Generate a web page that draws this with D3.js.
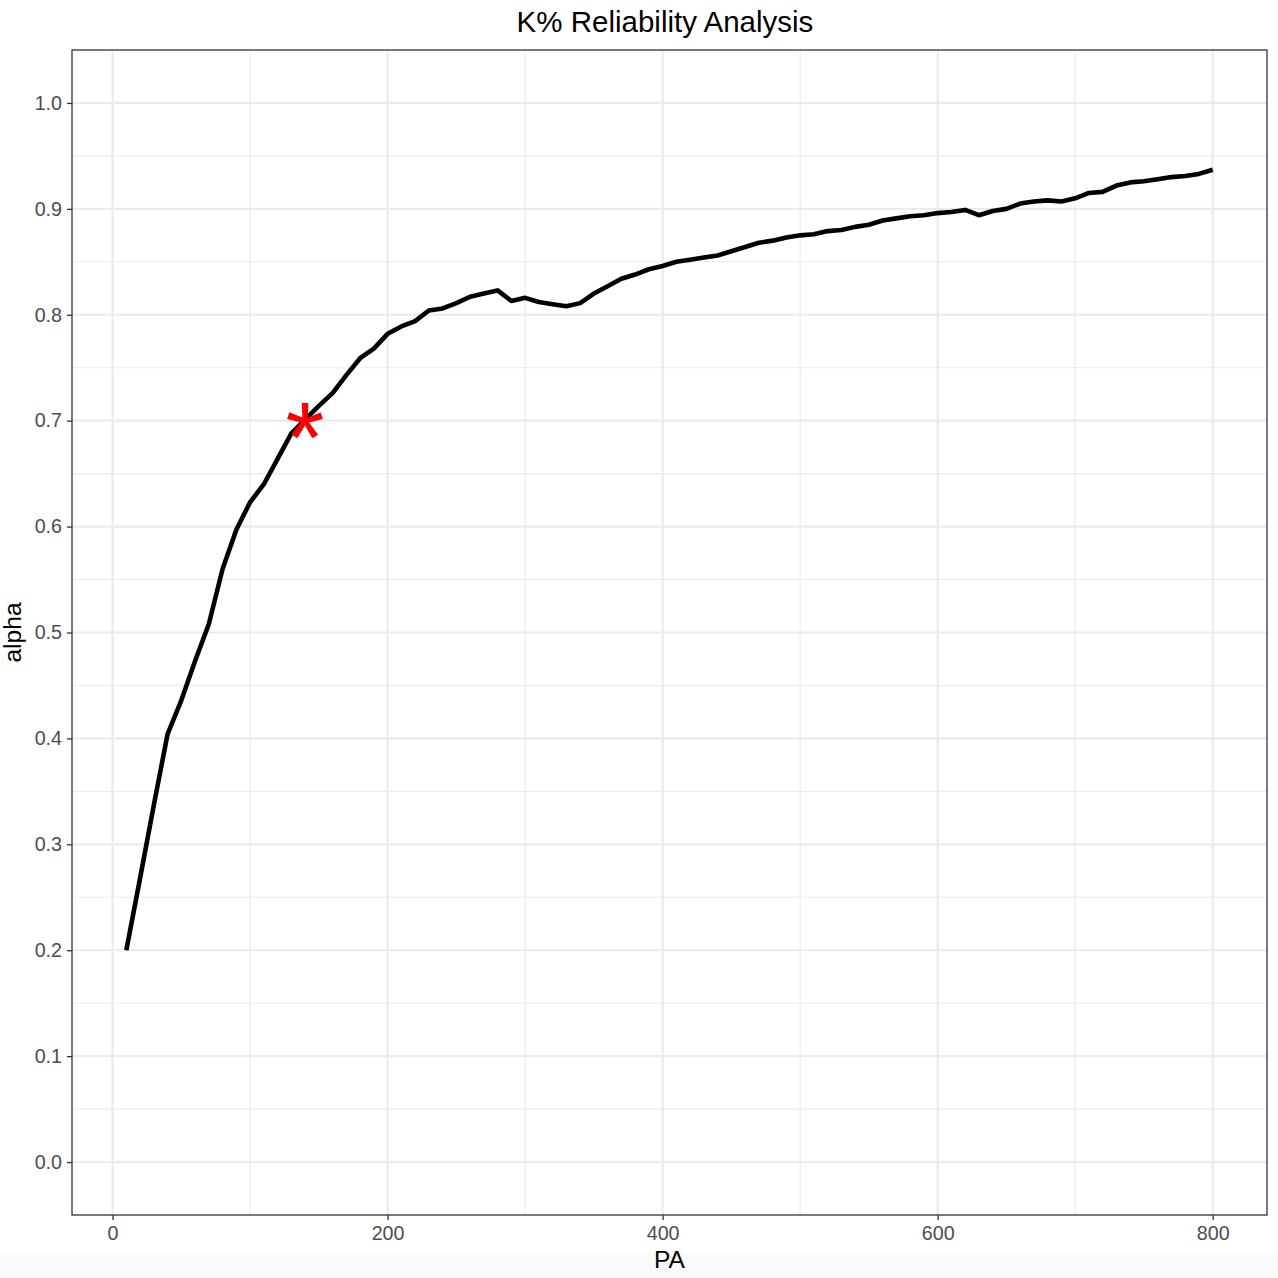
<!DOCTYPE html>
<html>
<head>
<meta charset="utf-8">
<script src="https://cdn.jsdelivr.net/npm/d3@7"></script>
<style>
  body { margin: 0; background: #fff; }
  text { font-family: "Liberation Sans", Arial, sans-serif; }
</style>
</head>
<body>
<div id="chartDIV"></div>
<script>
// data: PA every 10, alpha at each step
var paValues = [10,20,30,40,50,60,70,80,90,100,
  110,120,130,140,150,160,170,180,190,200,
  210,220,230,240,250,260,270,280,290,300,
  310,320,330,340,350,360,370,380,390,400,
  410,420,430,440,450,460,470,480,490,500,
  510,520,530,540,550,560,570,580,590,600,
  610,620,630,640,650,660,670,680,690,700,
  710,720,730,740,750,760,770,780,790,800]
var alphaValues = [0.200,0.268,0.337,0.404,0.436,0.473,0.508,0.560,0.597,0.623,
  0.640,0.664,0.688,0.701,0.714,0.726,0.743,0.759,0.768,0.782,
  0.789,0.794,0.804,0.806,0.811,0.817,0.820,0.823,0.813,0.816,
  0.812,0.810,0.808,0.811,0.820,0.827,0.834,0.838,0.843,0.846,
  0.850,0.852,0.854,0.856,0.860,0.864,0.868,0.870,0.873,0.875,
  0.876,0.879,0.880,0.883,0.885,0.889,0.891,0.893,0.894,0.896,
  0.897,0.899,0.894,0.898,0.900,0.905,0.907,0.908,0.907,0.910,
  0.915,0.916,0.922,0.925,0.926,0.928,0.930,0.931,0.933,0.937]

// the marked point (first PA reaching alpha 0.7)
var markPA = [140]
var markAlpha = [0.7]

var xTicks = [0,200,400,600,800]
var xMinor = [100,300,500,700]
var yTicks = [0,0.1,0.2,0.3,0.4,0.5,0.6,0.7,0.8,0.9,1.0]
var yMinor = [0.05,0.15,0.25,0.35,0.45,0.55,0.65,0.75,0.85,0.95]

var titleText = "K% Reliability Analysis"
var xTitle = "PA"
var yTitle = "alpha"

// sizes
var svgWidth = 1278
var svgHeight = 1278
var panel = {left: 72, right: 1267, top: 50, bottom: 1215}
var gridColor = "#EBEBEB"
var axisColor = "#333333"
var tickTextColor = "#4D4D4D"

// ggplot-style 5% expansion of the data range
var xMin = d3.min(paValues), xMax = d3.max(paValues)
var xPad = (xMax - xMin)*0.05
var x = d3.scaleLinear()
  .domain([xMin - xPad, xMax + xPad])
  .range([panel.left, panel.right])

var y = d3.scaleLinear()
  .domain([-0.05, 1.05])
  .range([panel.bottom, panel.top])

var svg = d3.select("#chartDIV").append("svg")
  .attr("width", svgWidth)
  .attr("height", svgHeight)
  .attr("id", "mainSVG")

// faint grey strip along the bottom edge of the picture
svg.append("rect")
  .attr("x", 0)
  .attr("y", 1253)
  .attr("width", svgWidth)
  .attr("height", svgHeight - 1253)
  .style("fill", "#F9F9F9")

// panel background
svg.append("rect")
  .attr("x", panel.left)
  .attr("y", panel.top)
  .attr("width", panel.right - panel.left)
  .attr("height", panel.bottom - panel.top)
  .style("fill", "#fff")

// grid: minor first, then major
var grid = svg.append("g").attr("class", "grid")

grid.selectAll(".xMinor").data(xMinor).enter().append("line")
  .attr("x1", d => x(d)).attr("x2", d => x(d))
  .attr("y1", panel.top).attr("y2", panel.bottom)
  .style("stroke", gridColor).style("stroke-width", 1.1)

grid.selectAll(".yMinor").data(yMinor).enter().append("line")
  .attr("x1", panel.left).attr("x2", panel.right)
  .attr("y1", d => y(d)).attr("y2", d => y(d))
  .style("stroke", gridColor).style("stroke-width", 1.1)

grid.selectAll(".xMajor").data(xTicks).enter().append("line")
  .attr("x1", d => x(d)).attr("x2", d => x(d))
  .attr("y1", panel.top).attr("y2", panel.bottom)
  .style("stroke", gridColor).style("stroke-width", 2.2)

grid.selectAll(".yMajor").data(yTicks).enter().append("line")
  .attr("x1", panel.left).attr("x2", panel.right)
  .attr("y1", d => y(d)).attr("y2", d => y(d))
  .style("stroke", gridColor).style("stroke-width", 2.2)

// the line
var line = d3.line()
  .x(d => x(d[0]))
  .y(d => y(d[1]))

svg.append("path")
  .datum(d3.zip(paValues, alphaValues))
  .attr("d", line)
  .style("fill", "none")
  .style("stroke", "#000")
  .style("stroke-width", 4.6)
  .style("stroke-linejoin", "round")

// red asterisk, glyph centred on the point (measured with canvas)
var starSize = 100
var ctx = document.createElement("canvas").getContext("2d")
ctx.font = `${starSize}px "Liberation Sans", Arial`
var m = ctx.measureText("*")
var glyphMidX = (m.actualBoundingBoxRight - m.actualBoundingBoxLeft)/2
var glyphMidY = (m.actualBoundingBoxAscent - m.actualBoundingBoxDescent)/2

svg.selectAll(".mark").data(d3.zip(markPA, markAlpha)).enter().append("text")
  .attr("x", d => x(d[0]) - glyphMidX)
  .attr("y", d => y(d[1]) + glyphMidY)
  .style("font-size", `${starSize}px`)
  .style("fill", "#FF0000")
  .text("*")

// panel border
svg.append("rect")
  .attr("x", panel.left)
  .attr("y", panel.top)
  .attr("width", panel.right - panel.left)
  .attr("height", panel.bottom - panel.top)
  .style("fill", "none")
  .style("stroke", axisColor)
  .style("stroke-width", 1.3)

// axes
var xAxis = d3.axisBottom(x).tickValues(xTicks).tickSize(5).tickPadding(6)
  .tickFormat(d3.format("d"))
var yAxis = d3.axisLeft(y).tickValues(yTicks).tickSize(5).tickPadding(5)
  .tickFormat(d3.format(".1f"))

var gx = svg.append("g")
  .attr("transform", `translate(0 ${panel.bottom})`)
  .call(xAxis)
var gy = svg.append("g")
  .attr("transform", `translate(${panel.left} 0)`)
  .call(yAxis)

for (var g of [gx, gy]) {
  g.select(".domain").remove()
  g.selectAll(".tick line").style("stroke", axisColor).style("stroke-width", 1.3)
  g.selectAll(".tick text")
    .style("font-family", '"Liberation Sans", Arial, sans-serif')
    .style("font-size", "19.7px")
    .style("fill", tickTextColor)
}

// titles
svg.append("text")
  .attr("x", 665)
  .attr("y", 32)
  .attr("text-anchor", "middle")
  .style("font-size", "29.5px")
  .style("fill", "#000")
  .text(titleText)

svg.append("text")
  .attr("x", (panel.left + panel.right)/2)
  .attr("y", 1268)
  .attr("text-anchor", "middle")
  .style("font-size", "24.6px")
  .style("fill", "#000")
  .text(xTitle)

svg.append("text")
  .attr("transform", `translate(21 ${(panel.top + panel.bottom)/2}) rotate(-90)`)
  .attr("text-anchor", "middle")
  .style("font-size", "24.6px")
  .style("fill", "#000")
  .text(yTitle)
</script>
</body>
</html>
